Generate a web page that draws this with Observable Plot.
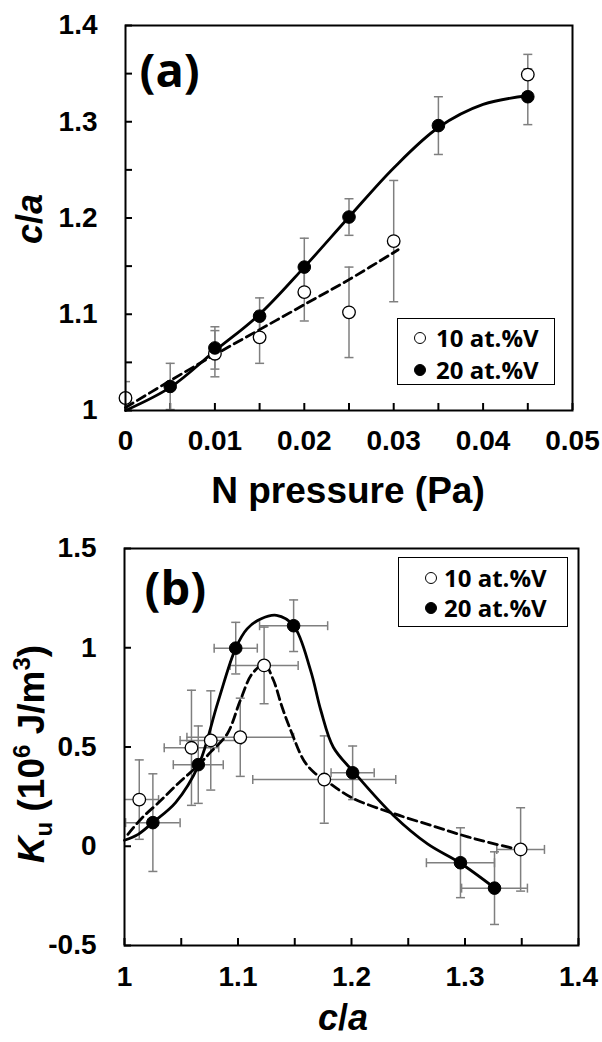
<!DOCTYPE html>
<html><head><meta charset="utf-8">
<script src="https://cdn.jsdelivr.net/npm/d3@7"></script>
<script src="https://cdn.jsdelivr.net/npm/@observablehq/plot@0.6"></script>
<style>
body{margin:0;background:#fff;}
#wrap{position:relative;width:602px;height:1042px;overflow:hidden;background:#fff;}
#wrap svg{display:block;}
.ov{position:absolute;white-space:nowrap;font-family:"Liberation Sans",Arial,sans-serif;font-weight:bold;color:#000;line-height:1;}
.rot{transform:translate(-50%,-50%) rotate(-90deg);}
.ctr{transform:translate(-50%,-50%);}
.leg{position:absolute;border:1.5px solid #000;background:#fff;box-sizing:border-box;}
.leg .row{position:absolute;left:0;font-family:"Open Sans",sans-serif;font-weight:bold;font-size:24px;line-height:1;transform:translateY(-50%);}
.leg .mk{position:absolute;width:12px;height:12px;border-radius:50%;border:1.3px solid #000;box-sizing:border-box;transform:translate(-50%,-50%);}
sub,sup{font-size:65%;line-height:0;}
</style></head><body><div id="wrap"></div><script>
// ---- data ----
const series = ["10 at.%V", "20 at.%V"];
// 10 at.%V
const pressure10 = [0, 0.01, 0.015, 0.02, 0.025, 0.03, 0.045];
const ca10 = [1.013, 1.059, 1.076, 1.123, 1.102, 1.176, 1.349];
const caErr10 = [0.017, 0.024, 0.027, 0.030, 0.047, 0.063, 0.021];
const ku10 = [0.235, 0.496, 0.533, 0.911, 0.549, 0.336, -0.016];
const kuErr10 = [0.20, 0.29, 0.25, 0.193, 0.197, 0.22, 0.21];
// 20 at.%V
const pressure20 = [0.005, 0.01, 0.015, 0.02, 0.025, 0.035, 0.045];
const ca20 = [1.025, 1.065, 1.098, 1.149, 1.201, 1.296, 1.326];
const caErr20 = [0.024, 0.022, 0.019, 0.030, 0.019, 0.030, 0.029];
const ku20 = [0.119, 0.411, 0.998, 1.111, 0.370, -0.083, -0.211];
const kuErr20 = [0.246, 0.195, 0.13, 0.13, 0.135, 0.176, 0.183];
// trend curves
const fitA10P = [0, 0.005, 0.01, 0.015, 0.02, 0.025, 0.0305];
const fitA10C = [1.003, 1.031, 1.058, 1.084, 1.110, 1.136, 1.167];
const fitA20P = [0, 0.005, 0.01, 0.015, 0.02, 0.025, 0.03, 0.035, 0.04, 0.045];
const fitA20C = [1.0, 1.024, 1.062, 1.100, 1.149, 1.201, 1.252, 1.294, 1.318, 1.327];
const fitB10C = [1.003, 1.015, 1.03, 1.048, 1.0654, 1.0758, 1.0905, 1.102, 1.1125, 1.1233, 1.131, 1.1389, 1.1477, 1.158, 1.1668, 1.1762, 1.2, 1.237, 1.273, 1.295, 1.317, 1.346];
const fitB10K = [0.06, 0.14, 0.22, 0.32, 0.41, 0.474, 0.566, 0.734, 0.869, 0.915, 0.84, 0.70, 0.566, 0.432, 0.373, 0.336, 0.245, 0.165, 0.1, 0.06, 0.025, -0.015];
const fitB20C = [1.0, 1.012, 1.025, 1.045, 1.0654, 1.082, 1.098, 1.108, 1.12, 1.134, 1.149, 1.164, 1.173, 1.184, 1.2026, 1.237, 1.267, 1.2954, 1.3263];
const fitB20K = [0.03, 0.06, 0.12, 0.22, 0.41, 0.72, 0.998, 1.095, 1.145, 1.163, 1.111, 0.885, 0.684, 0.499, 0.37, 0.155, 0.012, -0.083, -0.211];
// axes
const pressureTicks = [0, 0.005, 0.01, 0.015, 0.02, 0.025, 0.03, 0.035, 0.04, 0.045, 0.05];
const pressureLabels = [0, 0.01, 0.02, 0.03, 0.04, 0.05];
const caTicksA = [1, 1.05, 1.1, 1.15, 1.2, 1.25, 1.3, 1.35, 1.4];
const caLabelsA = [1, 1.1, 1.2, 1.3, 1.4];
const caTicksB = [1, 1.05, 1.1, 1.15, 1.2, 1.25, 1.3, 1.35, 1.4];
const caLabelsB = [1, 1.1, 1.2, 1.3, 1.4];
const kuTicks = [-0.5, 0, 0.5, 1, 1.5];

// ---- build tables ----
const rows10 = pressure10.map((p, i) => ({p, ca: ca10[i], caE: caErr10[i], ku: ku10[i], kuE: kuErr10[i]}));
const rows20 = pressure20.map((p, i) => ({p, ca: ca20[i], caE: caErr20[i], ku: ku20[i], kuE: kuErr20[i]}));
const fitA10 = fitA10P.map((p, i) => ({x: p, y: fitA10C[i]}));
const fitA20 = fitA20P.map((p, i) => ({x: p, y: fitA20C[i]}));
const fitB10 = fitB10C.map((c, i) => ({x: c, y: fitB10K[i]}));
const fitB20 = fitB20C.map((c, i) => ({x: c, y: fitB20K[i]}));

const capH = {draw(ctx, size) {const r = Math.sqrt(size / Math.PI); ctx.moveTo(-r, 0); ctx.lineTo(r, 0);}};
const capV = {draw(ctx, size) {const r = Math.sqrt(size / Math.PI); ctx.moveTo(0, -r); ctx.lineTo(0, r);}};
const EB = {stroke: "#7f7f7f", strokeWidth: 1.5, clip: true};
const FONT = "Liberation Sans, Arial, sans-serif";
const TICKFS = 28;
const LW = 2.8;
const fmt = d => String(d);

function vErr(rows, xk, yk, ek) {
  return [
    Plot.ruleX(rows, {x: xk, y1: d => d[yk] - d[ek], y2: d => d[yk] + d[ek], ...EB}),
    Plot.dot(rows, {x: xk, y: d => d[yk] + d[ek], symbol: capH, r: 4.5, fill: "none", ...EB}),
    Plot.dot(rows, {x: xk, y: d => d[yk] - d[ek], symbol: capH, r: 4.5, fill: "none", ...EB})
  ];
}
function hErr(rows, xk, yk, ek) {
  return [
    Plot.ruleY(rows, {y: yk, x1: d => d[xk] - d[ek], x2: d => d[xk] + d[ek], ...EB}),
    Plot.dot(rows, {y: yk, x: d => d[xk] + d[ek], symbol: capV, r: 4.5, fill: "none", ...EB}),
    Plot.dot(rows, {y: yk, x: d => d[xk] - d[ek], symbol: capV, r: 4.5, fill: "none", ...EB})
  ];
}

// ---- panel (a) ----
const A = {w: 602, h: 515, mt: 25, mb: 105, ml: 125, mr: 30};
const plotA = Plot.plot({
  width: A.w, height: A.h, marginTop: A.mt, marginBottom: A.mb, marginLeft: A.ml, marginRight: A.mr,
  x: {domain: [0, 0.05]}, y: {domain: [1, 1.4]},
  style: {fontFamily: FONT, fontSize: TICKFS + "px", fontWeight: "bold", background: "white"},
  marks: [
    Plot.ruleX(pressureTicks, {x: d => d, insetTop: (A.h - A.mt - A.mb) - 7, stroke: "black", strokeWidth: 2}),
    Plot.ruleY(caTicksA, {y: d => d, insetRight: (A.w - A.ml - A.mr) - 7, stroke: "black", strokeWidth: 2}),
    Plot.axisX(pressureLabels, {tickSize: 0, tickPadding: 20, tickFormat: fmt, fontSize: TICKFS, fontWeight: "bold", label: null}),
    Plot.axisY(caLabelsA, {tickSize: 0, tickPadding: 28, tickFormat: fmt, fontSize: TICKFS, fontWeight: "bold", label: null}),
    ...vErr(rows10, "p", "ca", "caE"),
    ...vErr(rows20, "p", "ca", "caE"),
    Plot.line(fitA10, {x: "x", y: "y", curve: "catmull-rom", stroke: "black", strokeWidth: LW, strokeDasharray: "9,5"}),
    Plot.line(fitA20, {x: "x", y: "y", curve: "catmull-rom", stroke: "black", strokeWidth: LW}),
    Plot.dot(rows10, {x: "p", y: "ca", r: 6.3, fill: "white", stroke: "black", strokeWidth: 1.3}),
    Plot.dot(rows20, {x: "p", y: "ca", r: 6.3, fill: "black", stroke: "black", strokeWidth: 1}),
    Plot.frame({stroke: "black", strokeWidth: 2}),
    Plot.text(["(a)"], {frameAnchor: "top-left", textAnchor: "start", lineAnchor: "top", dx: 14, dy: 28, fontSize: 47, fontWeight: "bold", fontFamily: "Open Sans, sans-serif"})
  ]
});

// ---- panel (b) ----
const B = {w: 602, h: 527, mt: 33, mb: 97, ml: 124, mr: 24};
const plotB = Plot.plot({
  width: B.w, height: B.h, marginTop: B.mt, marginBottom: B.mb, marginLeft: B.ml, marginRight: B.mr,
  x: {domain: [1, 1.4]}, y: {domain: [-0.5, 1.5]},
  style: {fontFamily: FONT, fontSize: TICKFS + "px", fontWeight: "bold", background: "white"},
  marks: [
    Plot.ruleX(caTicksB, {x: d => d, insetTop: (B.h - B.mt - B.mb) - 7, stroke: "black", strokeWidth: 2}),
    Plot.ruleY(kuTicks, {y: d => d, insetRight: (B.w - B.ml - B.mr) - 7, stroke: "black", strokeWidth: 2}),
    Plot.axisX(caLabelsB, {tickSize: 0, tickPadding: 21, tickFormat: fmt, fontSize: TICKFS, fontWeight: "bold", label: null}),
    Plot.axisY(kuTicks, {tickSize: 0, tickPadding: 28, tickFormat: fmt, fontSize: TICKFS, fontWeight: "bold", label: null}),
    ...vErr(rows10, "ca", "ku", "kuE"),
    ...hErr(rows10, "ca", "ku", "caE"),
    ...vErr(rows20, "ca", "ku", "kuE"),
    ...hErr(rows20, "ca", "ku", "caE"),
    Plot.line(fitB10, {x: "x", y: "y", curve: "catmull-rom", stroke: "black", strokeWidth: LW, strokeDasharray: "9,5"}),
    Plot.line(fitB20, {x: "x", y: "y", curve: "catmull-rom", stroke: "black", strokeWidth: LW}),
    Plot.dot(rows10, {x: "ca", y: "ku", r: 6.3, fill: "white", stroke: "black", strokeWidth: 1.3}),
    Plot.dot(rows20, {x: "ca", y: "ku", r: 6.3, fill: "black", stroke: "black", strokeWidth: 1}),
    Plot.frame({stroke: "black", strokeWidth: 2}),
    Plot.text(["(b)"], {frameAnchor: "top-left", textAnchor: "start", lineAnchor: "top", dx: 20, dy: 23, fontSize: 47, fontWeight: "bold", fontFamily: "Open Sans, sans-serif"})
  ]
});

const wrap = document.getElementById("wrap");
wrap.append(plotA, plotB);

function ov(html, left, top, size, cls) {
  const d = document.createElement("div");
  d.className = "ov " + cls;
  d.style.left = left + "px"; d.style.top = top + "px"; d.style.fontSize = size + "px";
  d.innerHTML = html;
  wrap.append(d);
}
ov("<i>c</i>/<i>a</i>", 30, 219, 36, "rot");
ov("N pressure (Pa)", 348, 490, 37, "ctr");
ov("<i>K</i><sub>u</sub> (10<sup>6</sup> J/m<sup>3</sup>)", 31, 754, 37, "rot");
ov("<i>c</i>/<i>a</i>", 343, 1018, 36, "ctr");

function legend(left, top, w, h, mx, tx, r1, r2) {
  const box = document.createElement("div");
  box.className = "leg";
  Object.assign(box.style, {left: left + "px", top: top + "px", width: w + "px", height: h + "px"});
  [[r1, "white", series[0]], [r2, "black", series[1]]].forEach(([ry, fill, label]) => {
    const m = document.createElement("div");
    m.className = "mk"; m.style.left = mx + "px"; m.style.top = ry + "px"; m.style.background = fill;
    const t = document.createElement("div");
    t.className = "row"; t.style.left = tx + "px"; t.style.top = ry + "px"; t.textContent = label;
    box.append(m, t);
  });
  wrap.append(box);
}
legend(397, 318, 158, 67, 22, 38, 19, 51);
legend(398, 557, 170, 70, 32, 45, 20, 50);
</script></body></html>
